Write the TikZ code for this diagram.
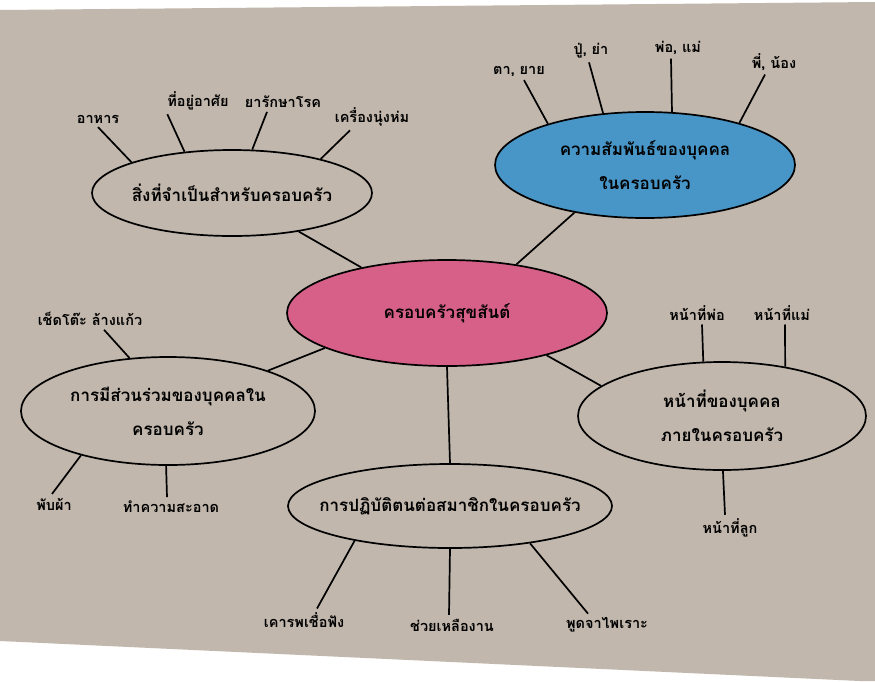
\documentclass[tikz,border=0pt]{standalone}
\usepackage{fontspec}
\setmainfont[Script=Thai]{Loma}
\usepackage{tikz}
\usetikzlibrary{shapes.geometric}
\definecolor{paper}{RGB}{193,183,172}
\definecolor{hubpink}{RGB}{214,96,136}
\definecolor{topicblue}{RGB}{72,150,200}
\newcommand{\topicfont}{\bfseries\fontsize{17}{34}\selectfont}
\newcommand{\leaffont}{\bfseries\fontsize{14.5}{16}\selectfont}
\tikzstyle{topic}=[draw, ellipse, line width=1.7pt, inner xsep=-50pt, inner ysep=-8pt, align=center, font=\topicfont]
\tikzstyle{leaf}=[inner sep=1pt, outer sep=3pt, font=\leaffont]
\tikzstyle{link}=[line width=1.7pt]
\tikzstyle{mindmap}=[x=1pt, y=-1pt,
                     % The paper of the photo, with its white edges.
                     execute at begin picture={\fill[white] (0,0) rectangle (875,681);
                                               \fill[paper] (0,10) -- (875,2) -- (875,681) -- (860,681) -- (0,641) -- cycle;}]

\begin{document}
\begin{tikzpicture}[mindmap]
        \useasboundingbox (0,0) rectangle (875,681);
        \node[topic, fill=hubpink, minimum width=320pt, minimum height=106pt] (hub) at (447,313) {ครอบครัวสุขสันต์};
        \node[topic, minimum width=280pt, minimum height=86pt] (needs) at (232,193) {สิ่งที่จำเป็นสำหรับครอบครัว};
        \node[topic, fill=topicblue, minimum width=300pt, minimum height=106pt] (relation) at (645,165) {ความสัมพันธ์ของบุคคล\\ในครอบครัว};
        \node[topic, minimum width=294pt, minimum height=108pt] (share) at (168,411) {การมีส่วนร่วมของบุคคลใน\\ครอบครัว};
        \node[topic, minimum width=288pt, minimum height=108pt] (duty) at (722,416) {หน้าที่ของบุคคล\\ภายในครอบครัว};
        \node[topic, minimum width=324pt, minimum height=84pt] (conduct) at (450,506) {การปฏิบัติตนต่อสมาชิกในครอบครัว};
        \draw[link] (needs.-30) -- (hub.152);
        \draw[link] (relation.214) -- (hub.35);
        \draw[link] (share.22) -- (hub.196);
        \draw[link] (duty.166) -- (hub.-23);
        \draw[link] (hub.south) -- (conduct.north);
        % Leaves round each topic.
        \node[leaf] (food) at (98,119) {อาหาร};
        \node[leaf] (home) at (198,101) {ที่อยู่อาศัย};
        \node[leaf] (medicine) at (283,102) {ยารักษาโรค};
        \node[leaf] (clothes) at (372,117) {เครื่องนุ่งห่ม};
        \draw[link] (needs.163) -- (food.south);
        \draw[link] (needs.139) -- ([xshift=4pt]home.south west);
        \draw[link] (needs.65) -- ([xshift=-16pt]medicine.south);
        \draw[link] (needs.21) -- ([xshift=-22pt]clothes.south);
        \node[leaf] (maternal) at (519,71) {ตา, ยาย};
        \node[leaf] (paternal) at (591,51) {ปู่, ย่า};
        \node[leaf] (parents) at (678,48) {พ่อ, แม่};
        \node[leaf] (siblings) at (774,62) {พี่, น้อง};
        \draw[link] (relation.157) -- ([xshift=5pt]maternal.south);
        \draw[link] (relation.129) -- ([xshift=-2pt]paternal.south);
        \draw[link] (relation.63) -- ([xshift=-7pt]parents.south);
        \draw[link] (relation.24) -- ([xshift=-9pt]siblings.south);
        \node[leaf] (wipe) at (90,319) {เช็ดโต๊ะ ล้างแก้ว};
        \node[leaf] (fold) at (54,504) {พับผ้า};
        \node[leaf] (clean) at (171,507) {ทำความสะอาด};
        \draw[link] (share.126) -- ([xshift=14pt]wipe.south);
        \draw[link] (share.207) -- ([xshift=-2pt]fold.north);
        \draw[link] (share.268) -- ([xshift=-4pt]clean.north);
        \node[leaf] (father) at (697,313) {หน้าที่พ่อ};
        \node[leaf] (mother) at (782,313) {หน้าที่แม่};
        \node[leaf] (child) at (730,528) {หน้าที่ลูก};
        \draw[link] (duty.109) -- ([xshift=5pt]father.south);
        \draw[link] (duty.38) -- ([xshift=3pt]mother.south);
        \draw[link] (duty.271) -- ([xshift=-5pt]child.north);
        \node[leaf] (obey) at (304,620) {เคารพเชื่อฟัง};
        \node[leaf] (help) at (452,625) {ช่วยเหลืองาน};
        \node[leaf] (polite) at (607,625) {พูดจาไพเราะ};
        \draw[link] (conduct.200) -- ([xshift=13pt]obey.north);
        \draw[link] (conduct.270) -- ([xshift=-3pt]help.north);
        \draw[link] (conduct.335) -- ([xshift=-19pt]polite.north);
    \end{tikzpicture}
\end{document}
